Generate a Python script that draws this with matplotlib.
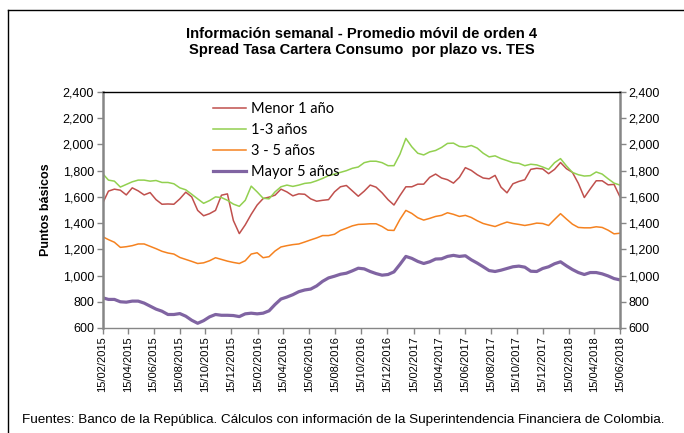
import matplotlib
matplotlib.use("Agg")
import matplotlib.pyplot as plt
from matplotlib.lines import Line2D
from matplotlib.ticker import FuncFormatter, MultipleLocator
import pandas as pd

start_date = "2015-02-15"
end_date = "2018-06-15"
n_points = 88

menor_1 = [1549, 1644, 1659, 1651, 1615, 1669, 1646, 1615, 1633, 1579, 1544, 1546, 1544, 1585, 1636, 1600,
           1497, 1456, 1472, 1497, 1613, 1623, 1420, 1320, 1387, 1467, 1538, 1587, 1598, 1613, 1659, 1638,
           1608, 1623, 1620, 1585, 1567, 1574, 1579, 1638, 1677, 1687, 1646, 1605, 1644, 1690, 1674, 1631,
           1579, 1538, 1610, 1677, 1677, 1697, 1697, 1749, 1774, 1744, 1731, 1705, 1749, 1823, 1802, 1769,
           1744, 1738, 1764, 1674, 1631, 1700, 1718, 1731, 1810, 1818, 1813, 1777, 1810, 1862, 1815, 1787,
           1703, 1595, 1661, 1723, 1723, 1692, 1695, 1600]
anios_1_3 = [1779, 1728, 1720, 1675, 1695, 1715, 1728, 1728, 1720, 1725, 1710, 1710, 1700, 1669, 1654, 1620,
             1585, 1551, 1572, 1600, 1595, 1574, 1545, 1528, 1574, 1682, 1638, 1590, 1585, 1638, 1677, 1690,
             1680, 1690, 1703, 1708, 1723, 1741, 1762, 1774, 1787, 1800, 1818, 1828, 1861, 1872, 1872, 1861,
             1838, 1838, 1925, 2046, 1982, 1933, 1920, 1943, 1954, 1977, 2008, 2010, 1985, 1980, 1992, 1972,
             1933, 1905, 1913, 1892, 1877, 1861, 1856, 1838, 1849, 1844, 1828, 1810, 1861, 1892, 1836, 1787,
             1769, 1759, 1762, 1790, 1774, 1738, 1705, 1690]
anios_3_5 = [1297, 1274, 1254, 1215, 1220, 1228, 1241, 1241, 1223, 1205, 1185, 1172, 1164, 1138, 1123, 1108,
             1092, 1097, 1113, 1136, 1123, 1110, 1100, 1092, 1113, 1164, 1174, 1136, 1144, 1187, 1218, 1228,
             1236, 1241, 1256, 1272, 1287, 1305, 1305, 1315, 1344, 1361, 1379, 1390, 1392, 1395, 1395, 1374,
             1346, 1344, 1428, 1497, 1474, 1441, 1423, 1436, 1451, 1459, 1479, 1467, 1451, 1459, 1443, 1418,
             1397, 1385, 1374, 1392, 1408, 1397, 1390, 1382, 1390, 1400, 1397, 1382, 1428, 1472, 1431, 1392,
             1367, 1364, 1364, 1372, 1367, 1346, 1318, 1323]
mayor_5 = [831, 818, 818, 800, 797, 805, 805, 790, 767, 744, 728, 703, 703, 710, 690, 659,
           636, 656, 685, 703, 697, 697, 695, 687, 708, 713, 708, 713, 731, 779, 821, 836,
           854, 877, 890, 897, 921, 956, 982, 995, 1010, 1018, 1036, 1056, 1051, 1031, 1015, 1003,
           1008, 1028, 1085, 1146, 1131, 1108, 1092, 1105, 1126, 1128, 1146, 1154, 1146, 1151, 1120, 1095,
           1067, 1038, 1031, 1041, 1054, 1067, 1072, 1064, 1033, 1031, 1054, 1067, 1090, 1105, 1074, 1046,
           1023, 1008, 1023, 1023, 1013, 997, 977, 967]

series_names = ["Menor 1 año", "1-3 años", "3 - 5 años", "Mayor 5 años"]
tick_labels = ["15/02/2015", "15/04/2015", "15/06/2015", "15/08/2015", "15/10/2015", "15/12/2015",
               "15/02/2016", "15/04/2016", "15/06/2016", "15/08/2016", "15/10/2016", "15/12/2016",
               "15/02/2017", "15/04/2017", "15/06/2017", "15/08/2017", "15/10/2017", "15/12/2017",
               "15/02/2018", "15/04/2018", "15/06/2018"]

title = "Información semanal - Promedio móvil de orden 4\nSpread Tasa Cartera Consumo  por plazo vs. TES"
ylabel = "Puntos básicos"
footnote = "Fuentes: Banco de la República. Cálculos con información de la Superintendencia Financiera de Colombia."

dates = pd.date_range(start_date, end_date, periods=n_points)
tick_dates = pd.to_datetime(tick_labels, format="%d/%m/%Y")

plt.rcParams['font.family'] = ['Liberation Sans', 'DejaVu Sans']

fig = plt.figure(figsize=(6.84, 4.33), dpi=100)
ax = fig.add_axes([102.5 / 684, 1 - 328 / 433, (620 - 102.5) / 684, (328 - 92) / 433])

styles = [("#C0504D", 1.1), ("#92D050", 1.1), ("#F58220", 1.1), ("#8064A2", 2.3)]
data = [menor_1, anios_1_3, anios_3_5, mayor_5]
handles = []
for vals, name, (c, lw) in zip(data, series_names, styles):
    h, = ax.plot(dates, vals, color=c, lw=lw, label=name, solid_joinstyle='round')
    handles.append(h)

ax.set_xlim(pd.Timestamp(start_date), pd.Timestamp(end_date))
ax.set_ylim(600, 2400)
ax.yaxis.set_major_locator(MultipleLocator(200))
ax.yaxis.set_major_formatter(FuncFormatter(lambda v, p: f"{int(v):,}"))
ax.set_xticks(tick_dates)
ax.set_xticklabels(tick_labels, rotation=90, fontsize=8)
ax.tick_params(axis='y', labelsize=9, right=True, labelright=True, length=4, color="#868686", width=1, pad=2)
ax.tick_params(axis='x', length=4, color="#868686", width=1, pad=2)

for s in ["left", "right"]:
    ax.spines[s].set_color("#868686")
    ax.spines[s].set_linewidth(1.8)
ax.spines["bottom"].set_color("#868686")
ax.spines["bottom"].set_linewidth(1.0)
ax.spines["top"].set_color("black")
ax.spines["top"].set_linewidth(1.0)

ax.set_ylabel(ylabel, fontsize=9, fontweight="bold", labelpad=8)

leg = ax.legend(handles=handles, loc="upper left", bbox_to_anchor=(0.193, 1.0), frameon=False,
                prop={'family': 'Lato', 'size': 10.5}, handlelength=2.3, handletextpad=0.35,
                labelspacing=0.47, borderaxespad=0.3)

fig.text(362 / 684, 1 - 42 / 433, title, ha="center", va="center", fontsize=10.6, fontweight="bold",
         linespacing=1.1)
fig.text(22 / 684, 1 - 420 / 433, footnote, ha="left", va="center", fontsize=9.7)

fig.add_artist(Line2D([8 / 684, 8 / 684], [0, 1 - 10 / 433], transform=fig.transFigure, color="black", lw=1))
fig.add_artist(Line2D([8 / 684, 1], [1 - 10 / 433, 1 - 10 / 433], transform=fig.transFigure, color="black", lw=1))

fig.savefig("out.png", dpi=100)
